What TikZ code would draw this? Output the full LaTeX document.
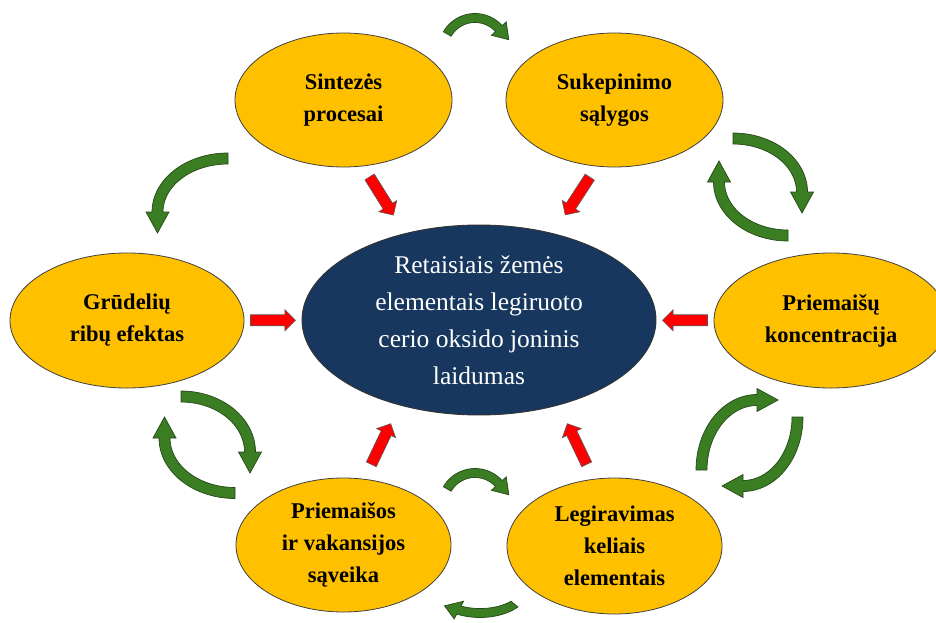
\documentclass[tikz,border=0pt]{standalone}
\usepackage{fontspec}
\setmainfont{Liberation Serif}
\usetikzlibrary{shapes.geometric,calc}
\definecolor{gold}{HTML}{FFC000}
\definecolor{navy}{HTML}{17375E}
\definecolor{leaf}{HTML}{3A7D22}
\definecolor{leafdark}{HTML}{26481A}
\newcommand{\garrow}[9]{%
 \pgfmathsetmacro{\gs}{(#6>#5)?1:-1}%
 \pgfmathsetmacro{\gtx}{-(#3)*sin(#6)}%
 \pgfmathsetmacro{\gty}{(#4)*cos(#6)}%
 \pgfmathsetmacro{\gn}{sqrt((\gtx)*(\gtx)+(\gty)*(\gty))}%
 \pgfmathsetmacro{\gtipx}{#1+(#3)*cos(#6)+#9*(\gs)*(\gtx)/(\gn)}%
 \pgfmathsetmacro{\gtipy}{#2+(#4)*sin(#6)+#9*(\gs)*(\gty)/(\gn)}%
 \filldraw[garr] plot[domain=#5:#6,samples=40] ({#1+(#3+#7)*cos(\x)},{#2+(#4+#7)*sin(\x)})
   -- ({#1+(#3+#8)*cos(#6)},{#2+(#4+#8)*sin(#6)})
   -- (\gtipx,\gtipy)
   -- ({#1+(#3-#8)*cos(#6)},{#2+(#4-#8)*sin(#6)})
   -- plot[domain=#6:#5,samples=40] ({#1+(#3-#7)*cos(\x)},{#2+(#4-#7)*sin(\x)})
   -- cycle;}
% block arrow at a named coordinate, pointing along angle #2 (visual, counter-clockwise)
\newcommand{\rarrow}[2]{%
 \filldraw[redarr,shift={(#1)},rotate=#2]
   (-22.5,-5.5) -- (12,-5.5) -- (12,-10.5) -- (22.5,0) -- (12,10.5) -- (12,5.5) -- (-22.5,5.5) -- cycle;}
\begin{document}
\begin{tikzpicture}[x=1pt,y=-1pt,
  garr/.style={fill=leaf,draw=leafdark,line width=0.7pt,line join=miter},
  factor/.style={ellipse,fill=gold,draw=black!75,line width=0.8pt,inner sep=0pt,
    align=center,font=\bfseries\fontsize{22.5}{32}\selectfont},
  core/.style={ellipse,fill=navy,draw=black!80,line width=0.9pt,inner sep=0pt,
    align=center,text=white,font=\fontsize{25.5}{37}\selectfont},
  redarr/.style={fill=red,draw=black!65,line width=0.6pt,line join=miter}]
\useasboundingbox (0,0) rectangle (936,623);
\fill[white] (0,0) rectangle (936,623);

% central ellipse
\node[core,minimum width=354pt,minimum height=190pt] (main) at (479,320)
  {Retaisiais žemės\\elementais legiruoto\\cerio oksido joninis\\laidumas};

% factor ellipses
\node[factor,minimum width=217pt,minimum height=134pt] (sint) at (343.5,100) {Sintezės\\procesai};
\node[factor,minimum width=217pt,minimum height=134pt] (suk) at (614.5,100) {Sukepinimo\\sąlygos};
\node[factor,minimum width=234pt,minimum height=135pt] (grud) at (127,320.5) {Grūdelių\\ribų efektas};
\node[factor,minimum width=234pt,minimum height=135pt] (konc) at (831,320.5) {Priemaišų\\koncentracija};
\node[factor,minimum width=215pt,minimum height=134pt] (vak) at (343.5,545) {Priemaišos\\ir vakansijos\\sąveika};
\node[factor,minimum width=215pt,minimum height=136pt] (leg) at (614.5,546) {Legiravimas\\keliais\\elementais};

% red arrows (influence of each factor on the conductivity)
\coordinate (r1) at ($(grud.east)!0.5!(main.west)$);
\coordinate (r2) at ($(konc.west)!0.5!(main.east)$);
\coordinate (r3) at (381.5,196);
\coordinate (r4) at (577.5,196);
\coordinate (r5) at (381,444);
\coordinate (r6) at (577,444);
\rarrow{r1}{0}
\rarrow{r2}{180}
\rarrow{r3}{-58}
\rarrow{r4}{-123}
\rarrow{r5}{64.5}
\rarrow{r6}{115.5}

% green cycle arrows
\garrow{228}{212}{70.5}{53.5}{-90}{-180}{5.5}{11.5}{21}
\garrow{733}{192}{69}{53.5}{-90}{0}{5.5}{11.5}{21}
\garrow{788}{182}{69}{53.5}{90}{180}{5.5}{11.5}{21}
\garrow{757}{470}{55.5}{70}{180}{270}{5.5}{11.5}{21}
\garrow{743}{417}{54.5}{69}{0}{90}{5.5}{11.5}{21}
\garrow{181}{452}{69}{55.5}{-90}{0}{5.5}{11.5}{21}
\garrow{235}{438}{70.5}{55}{90}{180}{5.5}{11.5}{21}
\garrow{475}{50}{32}{32}{210}{318}{4.5}{10}{15}
\garrow{475}{505}{32}{32}{210}{318}{4.5}{10}{15}
\garrow{480}{588}{45}{25}{40}{118}{4.5}{10}{15}
\end{tikzpicture}
\end{document}
